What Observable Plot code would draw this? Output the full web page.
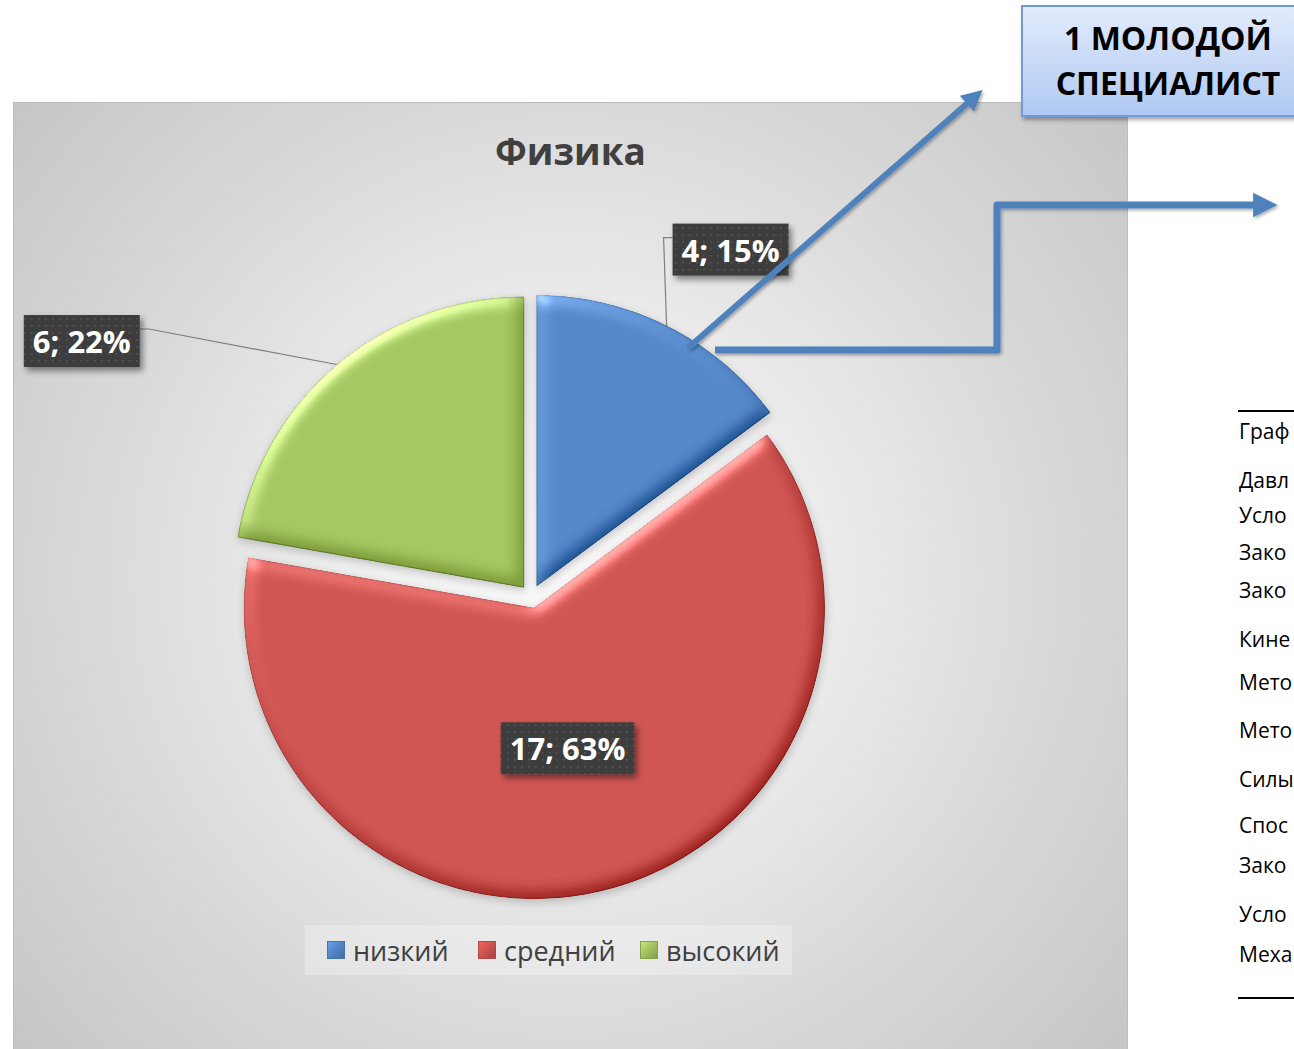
<!DOCTYPE html>
<html>
<head>
<meta charset="utf-8">
<script src="https://cdn.jsdelivr.net/npm/d3@7"></script>
<script src="https://cdn.jsdelivr.net/npm/@observablehq/plot@0.6"></script>
<style>
  html, body { margin: 0; padding: 0; background: #ffffff; }
  body { width: 1294px; height: 1049px; overflow: hidden; position: relative; font-family: "Open Sans", "Noto Sans", sans-serif; }
  #area { position: absolute; left: 13px; top: 102px; width: 1115px; height: 947px; box-sizing: border-box;
    border: 1px solid #bdbdbd; border-bottom: none;
    background: radial-gradient(circle farthest-corner at 50% 50%, #fafafa 0%, #efefef 30%, #dbdbdb 62%, #c6c6c6 100%); }
  #title { position: absolute; left: 13px; width: 1115px; text-align: center; font-weight: 700; color: #404040; white-space: nowrap; }
  #plot { position: absolute; left: 0; top: 0; }
  #legend { position: absolute; left: 305px; top: 925px; width: 487px; height: 50px; background: rgba(255,255,255,0.28); }
  .li { position: absolute; top: 0; height: 50px; display: flex; align-items: center; color: #404040; font-size: 27px; white-space: nowrap; }
  .sw { width: 18px; height: 18px; margin-right: 8px; box-sizing: border-box; }
  #arrows { position: absolute; left: 0; top: 0; }
  #callout { position: absolute; left: 1021px; top: 5px; width: 290px; height: 112px; box-sizing: border-box;
    border: 2px solid #7399d6; background: linear-gradient(#e2ebfb, #b0c9f2);
    box-shadow: 2px 3px 4px rgba(0,0,0,0.35); }
  .cl { position: absolute; left: 0; width: 290px; text-align: center; font-weight: 700; color: #000; font-size: 32px; line-height: 32px; white-space: nowrap; }
  .rule { position: absolute; left: 1238px; width: 60px; height: 2px; background: #000; }
  .row { position: absolute; left: 1239px; font-size: 21px; line-height: 21px; color: #000; white-space: nowrap; }
</style>
</head>
<body>
<div id="area"></div>
<div id="title"></div>
<div id="plot"></div>
<div id="legend"></div>
<svg id="arrows" width="1294" height="1049"></svg>
<div id="callout"></div>
<div id="table"></div>
<script>
// ---------- data ----------
const chartTitle = "Физика";
const categories = ["низкий", "средний", "высокий"];
const counts = [4, 17, 6];
const calloutLines = ["1 МОЛОДОЙ", "СПЕЦИАЛИСТ"];
// visible fragments of the neighbouring table (cut by the page edge in the reference)
const tableRows = ["Граф", "Давл", "Усло", "Зако", "Зако", "Кине", "Мето", "Мето", "Силы", "Спос", "Зако", "Усло", "Меха"];

// ---------- styles / layout ----------
const sliceFill = ["#5387c8", "#ce5451", "#a5c462"];
const sliceEdge = ["#4474b0", "#b44744", "#86a34a"];
const CX = 531, CY = 596, R = 290, W = 1294, H = 1049;
const explode = 0.042;
const labelPlace = [{r: 1.373, a: 30}, {r: 0.545, a: 166.8}, {r: 1.78, a: 299.4}];
const tableRowY = [432, 481, 516, 553, 591, 640, 683, 731, 780, 826, 866, 915, 955];

function topFor(baseline, fs, lh) { return baseline - (lh - 1.362 * fs) / 2 - 1.069 * fs; }

const t = document.getElementById("title");
t.textContent = chartTitle;
t.style.fontSize = "37px"; t.style.lineHeight = "37px";
t.style.top = topFor(165, 37, 37) + "px";

// ---------- pie geometry ----------
const total = d3.sum(counts);
const data = categories.map((c, i) => ({cat: c, count: counts[i], i}));
const arcs = d3.pie().sort(null).value(d => d.count)(data);
const polys = arcs.map(p => {
  const mid = (p.startAngle + p.endAngle) / 2;
  const ox = explode * Math.sin(mid), oy = explode * Math.cos(mid);
  const pts = [{x: ox, y: oy}];
  const n = Math.ceil((p.endAngle - p.startAngle) / (Math.PI / 180));
  for (let k = 0; k <= n; k++) {
    const a = p.startAngle + (p.endAngle - p.startAngle) * k / n;
    pts.push({x: ox + Math.sin(a), y: oy + Math.cos(a)});
  }
  return pts;
});
const labels = arcs.map((p, i) => {
  const lp = labelPlace[i];
  const a = lp.a * Math.PI / 180;
  const mid = (p.startAngle + p.endAngle) / 2;
  const ox = explode * Math.sin(mid), oy = explode * Math.cos(mid);
  return {
    text: `${p.data.count}; ${Math.round(p.data.count / total * 100)}%`,
    x: lp.r * Math.sin(a), y: lp.r * Math.cos(a),
    ax: ox + Math.sin(mid), ay: oy + Math.cos(mid), inside: lp.r < 1
  };
});

const svg = Plot.plot({
  width: W, height: H,
  marginLeft: CX - R, marginRight: W - CX - R, marginTop: CY - R, marginBottom: H - CY - R,
  x: {domain: [-1, 1], axis: null},
  y: {domain: [-1, 1], axis: null},
  style: {background: "transparent", overflow: "visible"},
  marks: [
    ...polys.map((pts, i) => Plot.line(pts, {x: "x", y: "y", curve: "linear-closed", fill: sliceFill[i], stroke: sliceEdge[i], strokeWidth: 1.2})),
    Plot.text(labels, {x: "x", y: "y", text: "text", fill: "white", fontSize: 31, fontWeight: "bold", fontFamily: "Open Sans"})
  ]
});
document.getElementById("plot").append(svg);

const sel = d3.select(svg);
sel.insert("defs", ":first-child").html(`
  <filter id="bevel" x="-10%" y="-10%" width="120%" height="120%" color-interpolation-filters="sRGB">
    <feGaussianBlur in="SourceAlpha" stdDeviation="8" result="blur"/>
    <feDiffuseLighting in="blur" surfaceScale="5" diffuseConstant="1" lighting-color="#ffffff" result="diff">
      <feDistantLight azimuth="235" elevation="55"/>
    </feDiffuseLighting>
    <feComposite in="SourceGraphic" in2="diff" operator="arithmetic" k1="0" k2="1" k3="0.5" k4="-0.41" result="lit"/>
    <feSpecularLighting in="blur" surfaceScale="5" specularConstant="0.3" specularExponent="22" lighting-color="#ffffff" result="spec">
      <feDistantLight azimuth="235" elevation="25"/>
    </feSpecularLighting>
    <feComposite in="spec" in2="SourceAlpha" operator="in" result="specIn"/>
    <feComposite in="lit" in2="specIn" operator="arithmetic" k2="1" k3="1" result="lit2"/>
    <feComposite in="lit2" in2="SourceAlpha" operator="in" result="litc"/>
    <feGaussianBlur in="SourceAlpha" stdDeviation="4" result="sb"/>
    <feOffset in="sb" dx="1" dy="3" result="so"/>
    <feFlood flood-color="#000" flood-opacity="0.2"/>
    <feComposite in2="so" operator="in" result="shadow"/>
    <feMerge><feMergeNode in="shadow"/><feMergeNode in="litc"/></feMerge>
  </filter>
  <pattern id="dots" width="7" height="7" patternUnits="userSpaceOnUse">
    <rect width="7" height="7" fill="#3e3e3e"/>
    <rect x="3" y="3" width="1.6" height="1.6" fill="#575757"/>
  </pattern>
  <filter id="boxsh" x="-20%" y="-20%" width="140%" height="150%">
    <feDropShadow dx="3" dy="4" stdDeviation="3" flood-color="#000" flood-opacity="0.45"/>
  </filter>`);
sel.selectAll('g[aria-label="line"]').attr("filter", "url(#bevel)");

// label boxes & leader lines (positions from the plot's scales)
const sx = v => svg.scale("x").apply(v), sy = v => svg.scale("y").apply(v);
const svgBox = svg.getBoundingClientRect();
const labelG = sel.select('g[aria-label="text"]');
const leaderG = sel.insert("g", 'g[aria-label="text"]').attr("fill", "none").attr("stroke", "#7f7f7f").attr("stroke-width", 1.2);
const boxG = sel.insert("g", 'g[aria-label="text"]').attr("filter", "url(#boxsh)");
labelG.selectAll("text").each(function(_, j) {
  const r = this.getBoundingClientRect();
  const padX = 9, padY = 6;
  const bx = r.left - svgBox.left - padX, by = r.top - svgBox.top - padY + 1;
  const bw = r.width + 2 * padX, bh = r.height + 2 * padY - 2;
  boxG.append("rect").attr("x", bx).attr("y", by).attr("width", bw).attr("height", bh).attr("fill", "url(#dots)");
  const L = labels[j];
  if (!L.inside) {
    const px = sx(L.ax), py = sy(L.ay);
    const ey = by + 14;
    let path;
    if (px > bx + bw) path = `M${px},${py}L${bx + bw + 9},${ey}L${bx + bw},${ey}`;
    else path = `M${px},${py}L${bx - 9},${ey}L${bx},${ey}`;
    leaderG.append("path").attr("d", path);
  }
});

// legend
const lg = document.getElementById("legend");
const legendX = [22, 173, 335];
categories.forEach((c, i) => {
  const it = document.createElement("div");
  it.className = "li";
  it.style.left = legendX[i] + "px";
  const sw = document.createElement("div");
  sw.className = "sw";
  sw.style.background = `linear-gradient(135deg, ${d3.color(sliceFill[i]).brighter(0.5)} 0%, ${sliceFill[i]} 45%, ${d3.color(sliceFill[i]).darker(0.6)} 100%)`;
  sw.style.border = `1px solid ${sliceEdge[i]}`;
  it.append(sw);
  const tx = document.createElement("span");
  tx.textContent = c;
  it.append(tx);
  lg.append(it);
});

// arrows (annotation)
document.getElementById("arrows").innerHTML = `
  <defs>
    <marker id="ah" viewBox="0 0 10 10" refX="2" refY="5" markerWidth="3.5" markerHeight="3.8" orient="auto" markerUnits="strokeWidth">
      <path d="M0,0L10,5L0,10z" fill="#4f81bd"/>
    </marker>
    <filter id="ash" x="-5%" y="-5%" width="110%" height="110%"><feDropShadow dx="1.5" dy="2" stdDeviation="1.5" flood-color="#000" flood-opacity="0.3"/></filter>
  </defs>
  <g filter="url(#ash)" stroke="#4f81bd" fill="none" stroke-linejoin="round">
    <path d="M688,348L970,101" stroke-width="6" marker-end="url(#ah)"/>
    <path d="M715,350H997V205H1258" stroke-width="7" marker-end="url(#ah)"/>
  </g>`;

// callout
const co = document.getElementById("callout");
[50, 95].forEach((b, i) => {
  const d = document.createElement("div");
  d.className = "cl";
  d.textContent = calloutLines[i];
  d.style.top = (topFor(b, 32, 32) - 7) + "px";
  co.append(d);
});

// table fragment
const tb = document.getElementById("table");
[410, 997].forEach(y => { const r = document.createElement("div"); r.className = "rule"; r.style.top = y + "px"; tb.append(r); });
tableRows.forEach((txt, i) => {
  const d = document.createElement("div");
  d.className = "row";
  d.textContent = txt;
  d.style.top = (topFor(tableRowY[i] + 8, 21, 21)) + "px";
  tb.append(d);
});
</script>
</body>
</html>
